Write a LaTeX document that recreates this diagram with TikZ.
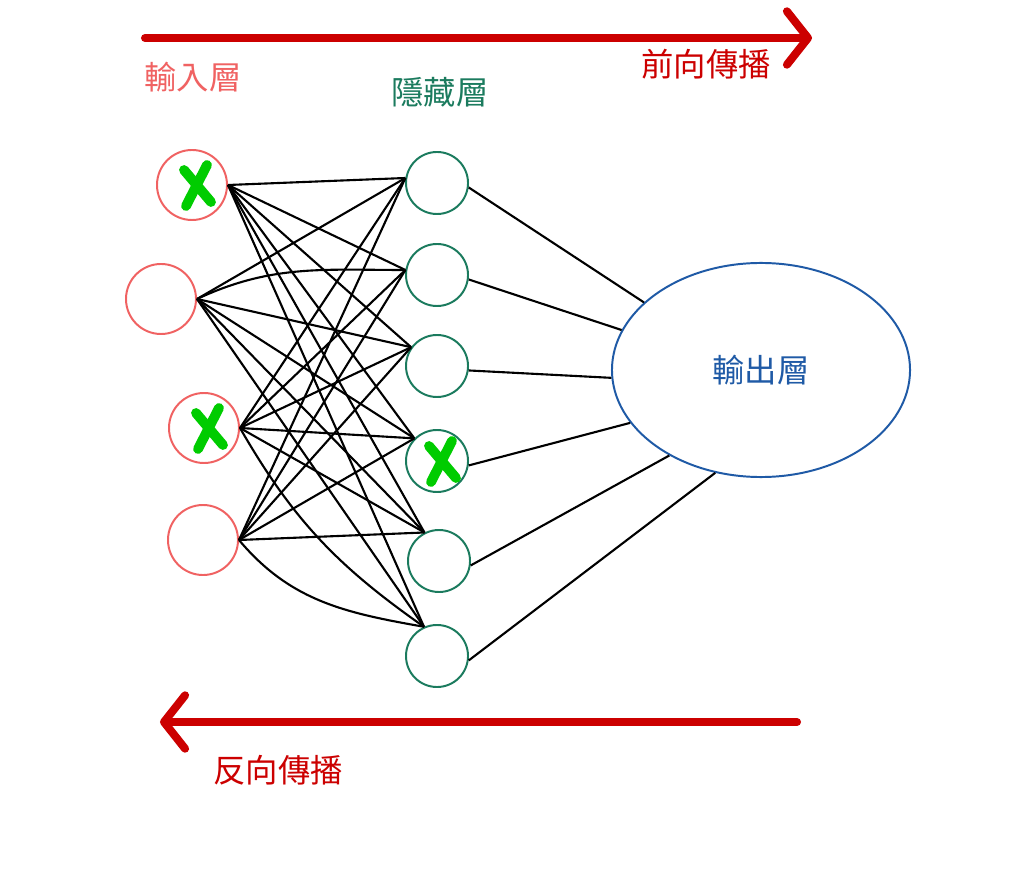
\documentclass[tikz,border=0pt]{standalone}
\usepackage{fontspec}
\newfontfamily\cjkfont{Noto Sans CJK TC}
\usetikzlibrary{arrows.meta,shapes.geometric}
\definecolor{inRed}{HTML}{F06262}
\definecolor{hidGreen}{HTML}{1B7B5E}
\definecolor{outBlue}{HTML}{1F5AA6}
\definecolor{arrowRed}{HTML}{CC0000}
\definecolor{xGreen}{HTML}{00CC00}

\tikzset{xMark/.pic={
    \draw[xStroke] (-8,-15) -- (19,17);
    \draw[xStroke] (15,-20) -- (-6,21);}}

\begin{document}
\begin{tikzpicture}[x=0.025cm, y=-0.025cm,
    every node/.style={font=\cjkfont\fontsize{23}{26}\selectfont},
    inNeuron/.style={circle, draw=inRed, line width=1.4pt, minimum size=1.75cm, inner sep=0pt},
    hidNeuron/.style={circle, draw=hidGreen, line width=1.4pt, minimum size=1.55cm, inner sep=0pt},
    link/.style={black, line width=1.5pt},
    propArrow/.style={draw=arrowRed, line width=5.7pt, line cap=round, -{Straight Barb[length=15pt, width=38pt, round]}},
    xStroke/.style={draw=xGreen, line width=7pt, line cap=round}]

\useasboundingbox (0,0) rectangle (1024,891);
\fill[white] (0,0) rectangle (1024,891);

% Propagation arrows
\coordinate (fwdStart) at (145,38);
\coordinate (fwdEnd) at (812,38);
\draw[propArrow] (fwdStart) -- (fwdEnd);
\node[text=arrowRed] (labFwd) at (706,64) {前向傳播};

\coordinate (bwdStart) at (797,722);
\coordinate (bwdEnd) at (160,722);
\draw[propArrow] (bwdStart) -- (bwdEnd);
\node[text=arrowRed] (labBwd) at (278,770) {反向傳播};

% Layer titles
\node[text=inRed] (labIn) at (193,77) {輸入層};
\node[text=hidGreen] (labHid) at (440,92) {隱藏層};

% Input layer
\node[inNeuron] (nIn1) at (192,185) {};
\node[inNeuron] (nIn2) at (161,299) {};
\node[inNeuron] (nIn3) at (204,428) {};
\node[inNeuron] (nIn4) at (203,540) {};

% Hidden layer
\node[hidNeuron] (nHid1) at (437,183) {};
\node[hidNeuron] (nHid2) at (437,275) {};
\node[hidNeuron] (nHid3) at (437,366) {};
\node[hidNeuron] (nHid4) at (437,461) {};
\node[hidNeuron] (nHid5) at (439,561) {};
\node[hidNeuron] (nHid6) at (437,656) {};

% Output layer
\node[ellipse, draw=outBlue, line width=1.4pt, minimum width=7.45cm, minimum height=5.35cm, text=outBlue] (nOut) at (761,370) {輸出層};

% Input -> hidden
\foreach \h/\a in {1/171,2/171,3/144,4/135,5/117,6/114}
    \coordinate (hIn\h) at (nHid\h.\a);
\foreach \h in {1,...,6} \draw[link] (nIn1.east) -- (hIn\h);
\foreach \h in {1,3,4,5,6} \draw[link] (nIn2.east) -- (hIn\h);
\foreach \h in {1,...,5} \draw[link] (nIn3.east) -- (hIn\h);
\foreach \h in {1,...,5} \draw[link] (nIn4.east) -- (hIn\h);
\draw[link] (nIn2.east) to[out=25, in=180] (hIn2);
\draw[link] (nIn3.east) to[out=-60, in=145] (hIn6);
\draw[link] (nIn4.east) to[out=-50, in=170] (hIn6);

% Hidden -> output
\foreach \h/\a in {1/150,2/164,3/183,4/202,5/223,6/246}
    \draw[link] (nHid\h.-8) -- (nOut.\a);

% Dropped units
\pic at (nIn1) {xMark};
\pic at (nIn3) {xMark};
\pic at (nHid4) {xMark};

\end{tikzpicture}
\end{document}
